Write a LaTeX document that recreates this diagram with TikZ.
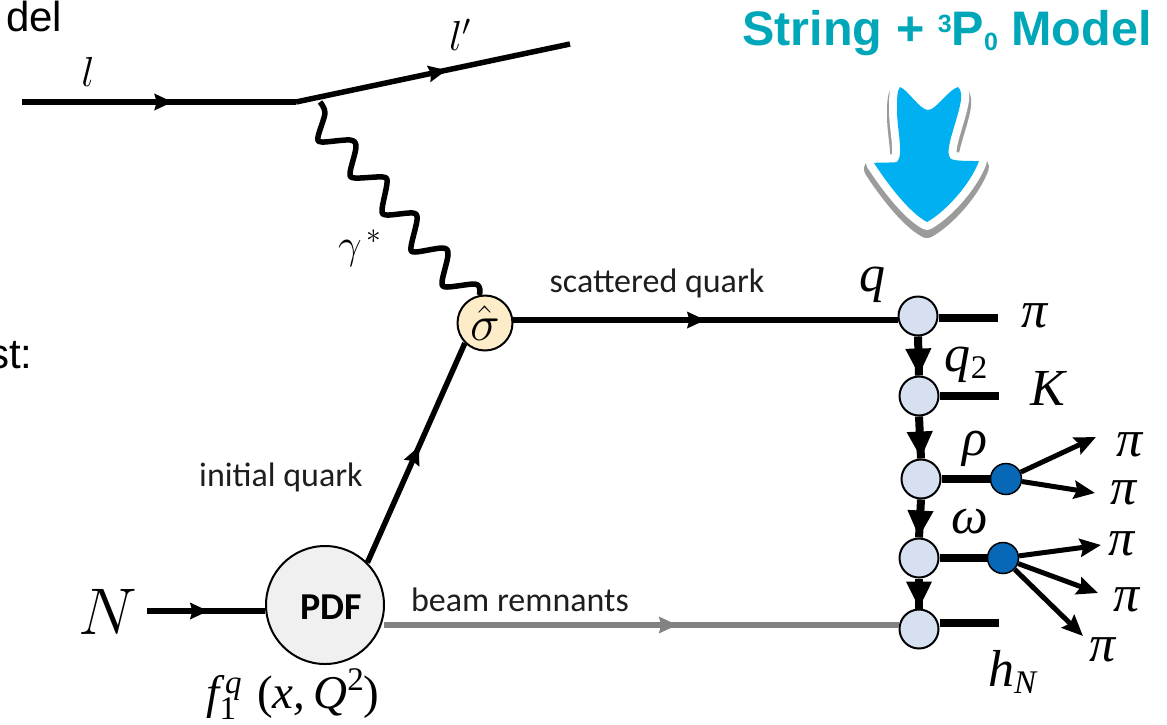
\documentclass[tikz,border=0pt]{standalone}
\usepackage{fix-cm}
\usepackage[no-math]{fontspec}
\setmainfont{Liberation Sans}
\newfontfamily\calibrilike{Carlito}
\newfontfamily\serifitalic[ItalicFont={Liberation Serif Italic}]{Liberation Serif}
\usepackage{tikz}
\usetikzlibrary{
  arrows.meta,
  positioning,
  decorations.markings
}
\definecolor{titleteal}{RGB}{0,167,184}
\definecolor{blobblue}{RGB}{0,176,240}
\definecolor{blobshadow}{RGB}{155,155,155}
\definecolor{sigmabg}{RGB}{252,236,200}
\definecolor{pdfbg}{RGB}{240,240,240}
\definecolor{hadronbg}{RGB}{214,224,240}
\definecolor{decayblue}{RGB}{8,104,184}
\definecolor{remnantgray}{RGB}{130,130,130}
\definecolor{labelgray}{RGB}{30,30,30}
\tikzset{
  sigmablob/.style={
    draw=black, fill=sigmabg, line width=2pt,
    circle, minimum size=55pt, inner sep=0pt,
    font=\fontsize{50}{54}\selectfont
  },
  pdfblob/.style={
    draw=black, fill=pdfbg, line width=2pt,
    circle, minimum size=118pt, inner sep=0pt
  },
  pdflabel/.style={
    font=\fontsize{38}{42}\selectfont\calibrilike\bfseries, inner sep=0pt
  },
  hadronblob/.style={
    draw=black, fill=hadronbg, line width=2pt,
    circle, minimum size=39pt, inner sep=0pt
  },
  decayblob/.style={
    draw=black, fill=decayblue, line width=1.5pt,
    circle, minimum size=31pt, inner sep=0pt
  },
  quarkline/.style={
    draw=black, line width=5.5pt
  },
  stubline/.style={
    draw=black, line width=8pt
  },
  photonline/.style={
    draw=black, line width=5.5pt, line join=round
  },
  decayarrow/.style={
    -{Stealth[length=21pt,width=18pt,inset=3pt]},
    draw=black, line width=5pt
  },
  midarrow/.style={
    decoration={markings,
      mark=at position #1 with {\arrow{Stealth[length=18pt,width=16pt,inset=2pt]}}},
    postaction={decorate}
  },
  chainarrow/.style={
    decoration={markings,
      mark=at position 1 with {\arrow{Stealth[length=27pt,width=24pt,inset=0pt]}}},
    postaction={decorate},
    draw=black, line width=8pt
  },
  mathlabel/.style={
    font=\fontsize{42}{46}\selectfont, inner sep=0pt
  },
  heavylabel/.style={
    font=\fontsize{52}{54}\selectfont\serifitalic\itshape, inner sep=0pt
  },
  quarklabel/.style={
    font=\fontsize{34}{38}\selectfont\calibrilike\color{labelgray}, inner sep=0pt
  },
  clippedtext/.style={
    font=\fontsize{42}{46}\selectfont, anchor=base west, inner sep=0pt
  },
  diagramtitle/.style={
    font=\fontsize{48.5}{52}\selectfont\bfseries\color{titleteal}, inner sep=0pt
  },
}
\newcommand{\smallidx}[1]{{\fontsize{33}{35}\selectfont #1}}
\begin{document}
\begin{tikzpicture}[x=1pt,y=-1pt]
  \useasboundingbox (0,0) rectangle (1167,724);

  %% Left-hand slide text
  \node[clippedtext] (del) at (6,31) {del};
  \node[clippedtext] (st) at (-12,368) {st:};

  %% Title and arrow
  \node[diagramtitle] (T) at (947,33) {String + \raisebox{13pt}{\fontsize{25}{27}\selectfont 3}P\raisebox{-5pt}{\fontsize{25}{27}\selectfont 0} Model};
  \def\blobpath{(900,87) .. controls (908,90) and (920,110) .. (928,110)
    .. controls (936,110) and (948,90) .. (958,87)
    .. controls (962,90) and (961,97) .. (961,100)
    .. controls (958,120) and (944,150) .. (950,158)
    .. controls (952,161) and (965,161) .. (979,161)
    .. controls (970,185) and (945,212) .. (927,222)
    .. controls (908,212) and (885,180) .. (874,163)
    .. controls (880,162) and (892,163) .. (897,162)
    .. controls (904,155) and (897,130) .. (897,110)
    .. controls (897,100) and (897,90) .. (900,87) -- cycle}
  \draw[blobshadow, fill=blobshadow, line width=20pt, line join=round, yshift=-6pt] \blobpath;
  \draw[white, fill=white, line width=16pt, line join=round] \blobpath;
  \fill[blobblue] \blobpath;

  %% Lepton vertex
  \coordinate (lin) at (22,102);
  \coordinate (vtx) at (296,102);
  \coordinate (lout) at (570,44);
  \coordinate (phstart) at (320,102);
  \draw[quarkline, midarrow=0.55] (lin) -- (vtx);
  \draw[quarkline, midarrow=0.55] (vtx) -- (lout);
  \node[mathlabel] (lab l) at (88,72) {$l$};
  \node[mathlabel] (lab lp) at (460,35) {$l'$};

  %% Hard scattering
  \node[sigmablob] (sigma) at (485,323) {$\hat{\sigma}$};
  \node[pdfblob] (pdf) at (325,605) {};
  \node[pdflabel] (lab pdf) at (331,607) {PDF};
  \coordinate (nin) at (147,611);

  \draw[photonline] plot[smooth, tension=0.5] coordinates {
    (phstart) (325,113) (318,137) (322,142) (350,140) (356,147)
    (350,173) (355,178) (383,177) (387,183) (382,210) (387,215)
    (413,213) (417,220) (411,247) (415,252) (443,248) (448,255)
    (442,282) (447,287) (475,284) (480,290) (sigma.102)};
  \node[mathlabel] (lab gamma) at (360,248) {$\gamma^{\,*}$};

  \coordinate (pdfin) at (pdf.west |- nin);
  \draw[quarkline, midarrow=0.52] (nin) -- (pdfin);
  \node[mathlabel, font=\fontsize{66}{70}\selectfont] (lab N) at (108,612) {$N$};
  \draw[quarkline, midarrow=0.53] (pdf.north east) -- (sigma.south west);
  \node[quarklabel] (lab init) at (281,477) {initial quark};
  \node[heavylabel, font=\fontsize{47}{50}\selectfont\serifitalic\itshape] (lab f) at (293,694)
    {f\rlap{\raisebox{-11pt}{\smallidx{\upshape 1}}}\raisebox{15pt}{\smallidx{\,q}}\,\,{\upshape (}x,\,Q\raisebox{18pt}{\smallidx{\upshape 2}}{\upshape )}};

  %% Fragmentation chain
  \node[hadronblob] (c1) at (918,316) {};
  \node[hadronblob, below=39pt of c1, xshift=1pt] (c2) {};
  \node[hadronblob, below=42pt of c2, xshift=2pt] (c3) {};
  \node[hadronblob, below=38pt of c3, xshift=-2pt] (c4) {};
  \node[hadronblob, below=30pt of c4] (c5) {};

  \coordinate (scatend) at (c1.west |- sigma.6);
  \draw[quarkline, midarrow=0.5] (sigma.6) -- (scatend);
  \node[quarklabel] (lab scat) at (657,283) {scattered quark};
  \coordinate (remstart) at (384,625);
  \coordinate (remend) at (c5.west |- remstart);
  \draw[quarkline, draw=remnantgray, midarrow=0.57] (remstart) -- (remend);
  \node[quarklabel] (lab beam) at (520,600) {beam remnants};

  \foreach \up/\down in {c1/c2, c2/c3, c3/c4, c4/c5} {
    \draw[chainarrow] (\up.south) -- (\down.north);
  }

  %% Outgoing hadrons
  \coordinate (e1) at (998,318);
  \coordinate (e2) at (999,396);
  \coordinate (e5) at (999,623);
  \draw[stubline] (c1.east |- e1) -- (e1);
  \draw[stubline] (c2.east |- e2) -- (e2);
  \draw[stubline] (c5.east |- e5) -- (e5);

  \node[decayblob] (rho) at (1006,479) {};
  \node[decayblob] (omega) at (1003,558) {};
  \draw[stubline] (c3.east |- rho) -- (rho);
  \draw[stubline] (c4.east |- omega) -- (omega);

  \coordinate (r1) at (1096,437);
  \coordinate (r2) at (1095,493);
  \coordinate (o1) at (1101,545);
  \coordinate (o2) at (1098,593);
  \coordinate (o3) at (1083,636);
  \foreach \from/\to in {rho/r1, rho/r2, omega/o1, omega/o2, omega/o3} {
    \draw[decayarrow] (\from) -- (\to);
  }

  %% Particle labels
  \node[heavylabel] (lab q) at (872,285) {q};
  \node[heavylabel] (lab q2) at (966,365) {q\raisebox{-7pt}{\smallidx{\upshape 2}}};
  \node[heavylabel] (lab rho) at (975,449) {ρ};
  \node[heavylabel] (lab omega) at (970,522) {ω};
  \node[heavylabel] (lab hN) at (1012,672) {h\raisebox{-7pt}{\smallidx{N}}};
  \node[heavylabel] (lab K) at (1048,388) {K};
  \node[heavylabel] (pi0) at (1035,316) {π};
  \node[heavylabel] (pi1) at (1130,445) {π};
  \node[heavylabel] (pi2) at (1124,493) {π};
  \node[heavylabel] (pi3) at (1122,544) {π};
  \node[heavylabel] (pi4) at (1127,600) {π};
  \node[heavylabel] (pi5) at (1103,650) {π};
\end{tikzpicture}
\end{document}
